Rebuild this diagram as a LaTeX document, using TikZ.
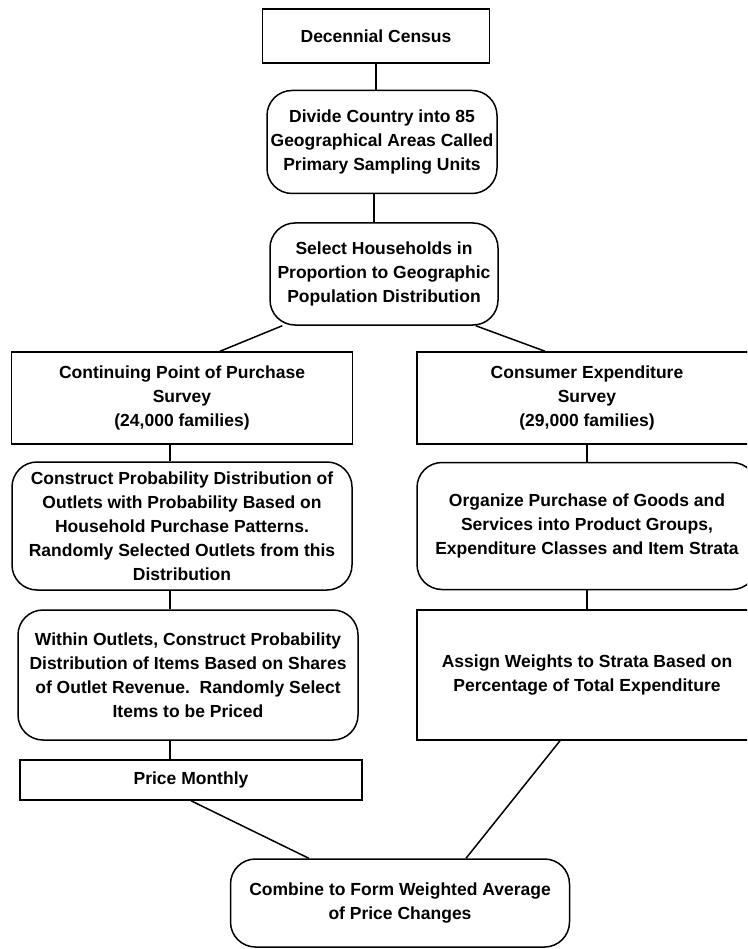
\documentclass[tikz,border=0pt]{standalone}
\usepackage{fontspec}
\setmainfont{Liberation Sans}
\begin{document}
\begin{tikzpicture}[x=1pt,y=-1pt,
    box/.style={draw,line width=1.5pt,align=center,inner sep=0pt,
      font=\bfseries\fontsize{17.5}{24}\selectfont},
    rbox/.style={box,rounded corners=25pt},
    link/.style={line width=1.5pt}]
  \useasboundingbox (0,0) rectangle (747,949);
  \clip (0,0) rectangle (747,949);
  % top column
  \node[box,minimum width=227,minimum height=54] (census) at (376,36) {Decennial Census};
  \node[rbox,minimum width=230,minimum height=103] (psu) at (382,142) {Divide Country into 85\\Geographical Areas Called\\Primary Sampling Units};
  \node[rbox,minimum width=228,minimum height=102] (hh) at (384,274) {Select Households in\\Proportion to Geographic\\Population Distribution};
  % left column
  \node[box,minimum width=341,minimum height=92] (cpops) at (182,398) {Continuing Point of Purchase\\Survey\\(24,000 families)};
  \node[rbox,minimum width=340,minimum height=128] (outlets) at (182,526) {Construct Probability Distribution of\\Outlets with Probability Based on\\Household Purchase Patterns.\\Randomly Selected Outlets from this\\Distribution};
  \node[rbox,minimum width=340,minimum height=130] (items) at (188,675) {Within Outlets, Construct Probability\\Distribution of Items Based on Shares\\of Outlet Revenue.\ \ Randomly Select\\Items to be Priced};
  \node[box,minimum width=342,minimum height=40] (price) at (191,780) {Price Monthly};
  % right column
  \node[box,minimum width=340,minimum height=92] (ces) at (587,398) {Consumer Expenditure\\Survey\\(29,000 families)};
  \node[rbox,minimum width=340,minimum height=127] (groups) at (587,526) {Organize Purchase of Goods and\\Services into Product Groups,\\Expenditure Classes and Item Strata};
  \node[box,minimum width=340,minimum height=130] (weights) at (587,675) {Assign Weights to Strata Based on\\Percentage of Total Expenditure};
  % bottom
  \node[rbox,minimum width=339,minimum height=88] (avg) at (400,903) {Combine to Form Weighted Average\\of Price Changes};

  \draw[link] (census.south) -- (census.south |- psu.north);
  \draw[link] ([xshift=-8]psu.south) -- ([xshift=-8]psu.south |- hh.north);
  \draw[link] ([xshift=13]hh.south west) -- ([xshift=38]cpops.north);
  \draw[link] ([xshift=-23]hh.south east) -- ([xshift=-42]ces.north);
  \draw[link] ([xshift=-12]cpops.south) -- ([xshift=-12]cpops.south |- outlets.north);
  \draw[link] ([xshift=-12]outlets.south) -- ([xshift=-12]outlets.south |- items.north);
  \draw[link] ([xshift=-18]items.south) -- ([xshift=-18]items.south |- price.north);
  \draw[link] (ces.south) -- (groups.north);
  \draw[link] (groups.south) -- (weights.north);
  \draw[link] (price.south) -- ([xshift=79]avg.north west);
  \draw[link] ([xshift=-27]weights.south) -- ([xshift=66]avg.north);
\end{tikzpicture}
\end{document}
